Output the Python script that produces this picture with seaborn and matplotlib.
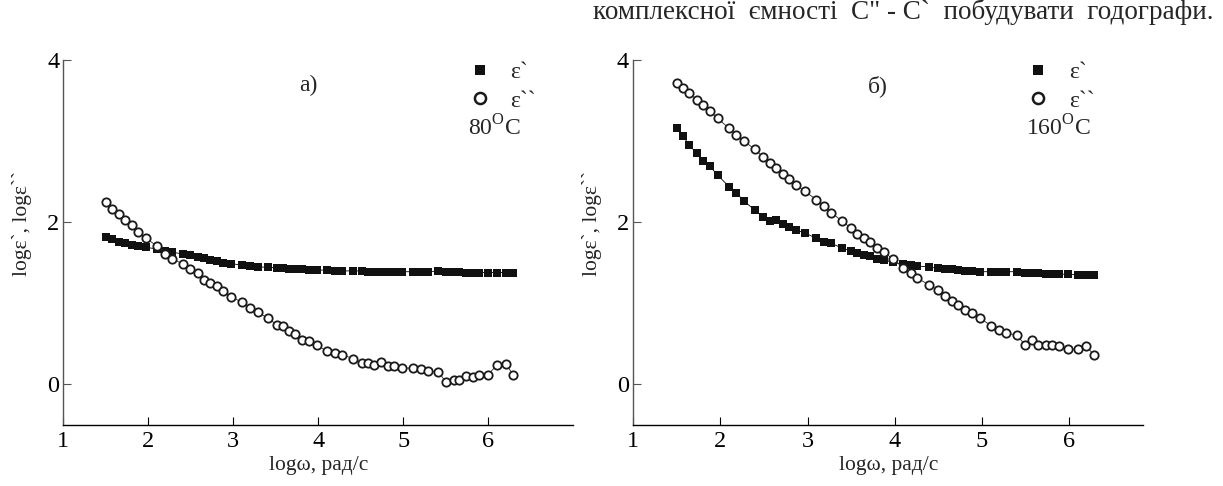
import numpy as np
import pandas as pd
import matplotlib
matplotlib.use("Agg")
import matplotlib.pyplot as plt
from matplotlib.lines import Line2D
import seaborn as sns

# ---------------- data ----------------
# panel а) 80 °C
x_a = [1.506, 1.574, 1.650, 1.727, 1.804, 1.881, 1.976, 2.102, 2.201, 2.278,
       2.405, 2.490, 2.581, 2.653, 2.730, 2.807, 2.883, 2.978, 3.100, 3.195,
       3.285, 3.407, 3.511, 3.579, 3.651, 3.728, 3.805, 3.886, 3.990, 4.103,
       4.198, 4.284, 4.410, 4.509, 4.586, 4.654, 4.735, 4.817, 4.893, 4.984,
       5.115, 5.210, 5.295, 5.413, 5.503, 5.598, 5.652, 5.742, 5.815, 5.895,
       5.995, 6.104, 6.208, 6.289]
eps1_a = [1.82, 1.79, 1.76, 1.74, 1.72, 1.71, 1.69, 1.67, 1.64, 1.63,
          1.61, 1.59, 1.57, 1.56, 1.54, 1.52, 1.50, 1.49, 1.47, 1.46,
          1.45, 1.445, 1.44, 1.43, 1.42, 1.42, 1.42, 1.415, 1.41, 1.41,
          1.40, 1.40, 1.40, 1.40, 1.39, 1.39, 1.39, 1.39, 1.39, 1.39,
          1.39, 1.39, 1.39, 1.40, 1.39, 1.39, 1.39, 1.38, 1.38, 1.38,
          1.38, 1.38, 1.38, 1.38]
eps2_a = [2.247, 2.165, 2.107, 2.029, 1.963, 1.885, 1.802, 1.704, 1.613, 1.551,
          1.486, 1.428, 1.374, 1.292, 1.251, 1.210, 1.148, 1.082, 1.012, 0.942,
          0.889, 0.819, 0.733, 0.716, 0.654, 0.617, 0.551, 0.539, 0.481, 0.407,
          0.383, 0.366, 0.317, 0.263, 0.263, 0.243, 0.280, 0.226, 0.222, 0.202,
          0.202, 0.189, 0.160, 0.156, 0.025, 0.058, 0.058, 0.107, 0.091, 0.119,
          0.119, 0.243, 0.255, 0.119]

# panel б) 160 °C
x_b = [1.503, 1.571, 1.644, 1.727, 1.800, 1.878, 1.969, 2.097, 2.184, 2.271,
       2.394, 2.490, 2.568, 2.641, 2.718, 2.791, 2.869, 2.970, 3.098, 3.189,
       3.271, 3.399, 3.495, 3.569, 3.642, 3.719, 3.797, 3.875, 3.975, 4.094,
       4.181, 4.259, 4.391, 4.497, 4.579, 4.652, 4.730, 4.807, 4.881, 4.976,
       5.104, 5.200, 5.273, 5.401, 5.497, 5.575, 5.648, 5.735, 5.803, 5.881,
       5.982, 6.096, 6.196, 6.283]
eps1_b = [3.16, 3.06, 2.95, 2.85, 2.76, 2.69, 2.58, 2.44, 2.36, 2.26,
          2.15, 2.07, 2.02, 2.03, 1.98, 1.94, 1.90, 1.87, 1.80, 1.76,
          1.74, 1.68, 1.65, 1.62, 1.60, 1.58, 1.55, 1.53, 1.51, 1.48,
          1.47, 1.46, 1.45, 1.43, 1.42, 1.42, 1.41, 1.40, 1.40, 1.39,
          1.39, 1.39, 1.39, 1.39, 1.38, 1.37, 1.37, 1.36, 1.36, 1.36,
          1.36, 1.35, 1.35, 1.35]
eps2_b = [3.72, 3.65, 3.59, 3.51, 3.44, 3.37, 3.28, 3.16, 3.07, 3.00,
          2.90, 2.80, 2.73, 2.67, 2.60, 2.53, 2.46, 2.38, 2.28, 2.20,
          2.12, 2.01, 1.93, 1.86, 1.80, 1.76, 1.68, 1.63, 1.55, 1.44,
          1.37, 1.31, 1.23, 1.16, 1.09, 1.03, 0.975, 0.92, 0.877, 0.819,
          0.724, 0.675, 0.638, 0.605, 0.486, 0.543, 0.490, 0.490, 0.486, 0.469,
          0.432, 0.432, 0.473, 0.366]

panel_labels = ["а)", "б)"]
temperatures = ["80$^{\\mathregular{O}}$C", "160$^{\\mathregular{O}}$C"]
legend_labels = ["ε`", "ε``"]
x_ticks = [1, 2, 3, 4, 5, 6]
y_ticks = [0, 2, 4]
x_label = "logω, рад/с"
y_label = "logε`, logε``"
header = "комплексної  ємності  С\" - С`  побудувати  годографи."

# ---------------- style ----------------
sns.set_theme(style="ticks")
plt.rcParams["font.family"] = ["Liberation Serif", "DejaVu Serif"]
plt.rcParams["mathtext.fontset"] = "custom"
plt.rcParams["mathtext.rm"] = "Liberation Serif"

fig = plt.figure(figsize=(12.23, 4.86), dpi=100)
ax_a = fig.add_axes([0.0518, 0.1255, 0.417, 0.751])
ax_b = fig.add_axes([0.5178, 0.1255, 0.417, 0.751])

panels = [
    (ax_a, x_a, eps1_a, eps2_a, (1, 7.0), 0.7925),
    (ax_b, x_b, eps1_b, eps2_b, (1, 6.85), 0.77),
]

for i, (ax, xs, e1, e2, xlim, tx) in enumerate(panels):
    df = pd.DataFrame({"x": xs, "e1": e1, "e2": e2})
    sns.lineplot(data=df, x="x", y="e1", ax=ax, sort=False, estimator=None,
                 color="black", linewidth=0.6, marker="s", markersize=5.4,
                 markeredgewidth=0, markerfacecolor="#111111")
    sns.lineplot(data=df, x="x", y="e2", ax=ax, sort=False, estimator=None,
                 color="#222222", linewidth=0.6, marker="o", markersize=6.0,
                 markeredgewidth=1.3, markerfacecolor="white",
                 markeredgecolor="#1a1a1a")
    ax.set_xlim(*xlim)
    ax.set_ylim(-0.5, 4.0)
    ax.set_xticks(x_ticks)
    ax.set_yticks(y_ticks)
    ax.tick_params(axis="both", direction="in", length=5.5, width=0.8,
                   labelsize=17.5, colors="black")
    ax.tick_params(axis="y", pad=3, color="#555555")
    ax.tick_params(axis="x", pad=4)
    for s in ["top", "right"]:
        ax.spines[s].set_visible(False)
    ax.spines["left"].set_color("#555555")
    ax.spines["left"].set_linewidth(1.0)
    ax.spines["bottom"].set_color("black")
    ax.spines["bottom"].set_linewidth(1.0)
    ax.set_xlabel(x_label, fontsize=15.5)
    ax.set_ylabel(y_label, fontsize=15.5)
    ax.xaxis.set_label_coords(0.5, -0.085)
    ax.yaxis.set_label_coords(-0.062, 0.553)
    ax.text(0.48, 0.93, panel_labels[i], transform=ax.transAxes,
            ha="center", va="center", fontsize=17)
    ax.text(tx, 0.814, temperatures[i], transform=ax.transAxes,
            ha="left", va="center", fontsize=17)
    handles = [
        Line2D([], [], ls="none", marker="s", markersize=6.5,
               markerfacecolor="#111111", markeredgewidth=0),
        Line2D([], [], ls="none", marker="o", markersize=8,
               markerfacecolor="white", markeredgecolor="#1a1a1a",
               markeredgewidth=1.8),
    ]
    ax.legend(handles, legend_labels, loc="upper left",
              bbox_to_anchor=(tx - 0.018, 1.022), frameon=False, fontsize=17,
              handlelength=1.0, handletextpad=0.8, labelspacing=0.3,
              borderaxespad=0)

fig.text(0.992, 0.975, header, ha="right", va="center", fontsize=19.5)

fig.savefig("out.png", dpi=100)
